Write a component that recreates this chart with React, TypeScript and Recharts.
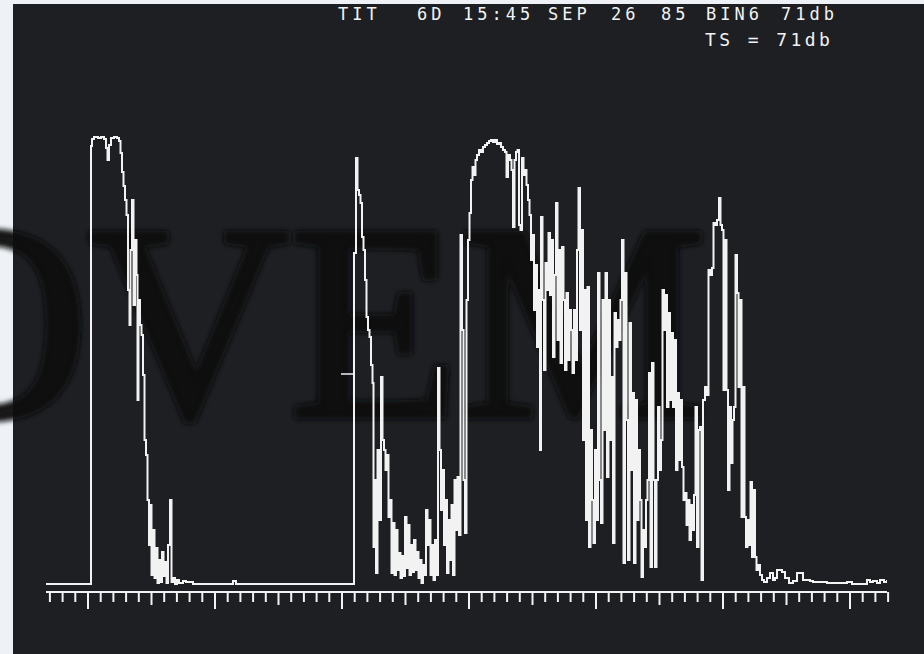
import React from 'react';
import { LineChart, Line, XAxis, YAxis, ReferenceLine } from 'recharts';

// echo trace: [sample, level] pairs
const BOTTOM_PULSE: [number, number][] = [
  [0, 0], [44.7, 0], [45, 438], [46, 445], [48, 447], [52, 446], [55, 447], [58, 445],
  [60, 436], [61.5, 424], [63, 439], [65, 446], [68, 447], [71, 446], [73, 443], [74.5, 431],
  [76, 412], [77.5, 398], [79, 384], [80.5, 369], [82, 294], [83.5, 259], [84.5, 334], [86, 384],
  [87.5, 279], [89, 344], [90.5, 309], [91.5, 184], [92.5, 284], [94, 259], [95.5, 249], [97, 209],
  [98.5, 144], [100, 129], [101.5, 84], [103, 39], [104, 79], [105.5, 9], [107, 54], [108.5, 6],
  [110, 36], [111.5, 1], [113, 24], [114.5, 2], [116, 32], [117.5, 8], [119, 22], [120.5, 1],
  [122, 39], [124, 84], [125.5, 2], [127, 6], [129, 0], [131, 4], [133, 1], [137, 3],
  [140, 2], [147, 0], [187, 3], [190, 0], [308, 0],
];

const SCHOOL_ECHO: [number, number][] = [
  [308, 331], [310, 426], [311.5, 394], [313, 389], [314.5, 381], [316, 347], [317.5, 334], [319, 304],
  [320.5, 267], [322, 254], [323.5, 247], [325, 219], [326.5, 201], [327.5, 37], [329, 104], [330, 11],
  [331.5, 134], [333, 64], [335, 207], [336.5, 144], [338, 134], [339.5, 114], [341, 129], [342.5, 67],
  [344, 84], [345.5, 11], [347, 61], [348.5, 9], [350, 54], [351.5, 14], [353, 31], [354.5, 6],
  [356, 28], [357.5, 8], [359, 67], [360.5, 16], [362, 59], [363.5, 9], [365, 39], [366.5, 12],
  [368, 44], [369.5, 14], [371, 32], [372.5, 6], [374, 24], [375.5, 1], [377, 19], [378.5, 9],
  [380, 74], [381.5, 39], [383, 64], [384.5, 9], [386, 39], [387.5, 4], [389, 44], [390.5, 9],
  [392, 216], [393.5, 134], [395, 74], [396.5, 114], [398, 39], [399.5, 84], [401, 11], [402.5, 64],
  [404, 24], [405.5, 79], [407, 9], [408.5, 104], [410, 54], [411.5, 107], [413, 49], [414.5, 349],
  [416, 254], [417.5, 104], [419, 51], [420.5, 284], [422, 344], [423.5, 371], [425, 404], [426.5, 417],
  [428, 409], [429.5, 424], [431, 429], [433, 434], [435, 432], [437, 437], [439, 439], [441, 441],
  [443, 443], [445, 444], [447, 442], [449, 444], [451, 440], [453, 441], [455, 437], [457, 434],
  [459, 432], [460.5, 407], [462, 429], [464, 424], [465.5, 414], [467, 357], [468.5, 424], [470, 432],
  [471.5, 434], [473, 359], [474.5, 354], [476, 426], [477.5, 409], [479, 414], [480.5, 399], [482, 384],
  [483.5, 369], [485, 324], [486.5, 349], [488, 274], [489.5, 319], [491, 237], [492.5, 294], [494, 134],
  [495, 367], [496.5, 284], [498, 214], [499.5, 321], [501, 294], [502.5, 351], [504, 289], [505.5, 344],
  [507, 227], [508.5, 309], [510, 381], [511.5, 244], [513, 334], [514.5, 221], [516, 337], [517.5, 284],
  [519, 214], [520.5, 291], [522, 224], [523.5, 274], [525, 254], [526.5, 211], [528, 274], [529.5, 224],
  [531, 334], [532.5, 396], [534, 254], [535.5, 354], [537, 144], [538.5, 294], [540, 64], [541.5, 297],
  [543, 37], [544.5, 154], [546, 84], [547.5, 41], [549, 134], [550.5, 64], [552, 311], [553.5, 104],
  [555, 61], [556.5, 284], [558, 154], [559.5, 311], [561, 107], [562.5, 284], [564, 144], [565.5, 207],
  [567, 41], [568.5, 271], [570, 237], [571.5, 264], [573, 244], [574.5, 284], [576, 344], [577.5, 21],
  [579, 311], [580.5, 164], [582, 24], [583.5, 261], [585, 114], [586.5, 191], [588, 21], [589.5, 184],
  [591, 64], [592.5, 134], [594, 84], [595.5, 7], [597, 54], [598.5, 37], [600, 84], [601.5, 104],
  [603, 211], [604.5, 17], [606, 221], [607.5, 104], [609, 17], [610.5, 104], [612, 177], [613.5, 114],
  [615, 144], [616.5, 294], [618, 254], [619.5, 289], [621, 177], [622.5, 271], [624, 184], [625.5, 251],
  [627, 177], [628.5, 244], [630, 114], [631.5, 191], [633, 124], [634.5, 184], [636, 117], [637.5, 84],
  [639, 91], [640.5, 59], [642, 84], [643.5, 44], [645, 79], [646.5, 54], [648, 89], [649.5, 177],
  [651, 37], [652.5, 154], [654, 157], [655.5, 4], [657, 184], [659, 197], [661, 189], [662.5, 314],
  [664, 309], [666, 316], [667.5, 361], [669.5, 359], [671, 364], [673, 386], [674.5, 359], [676, 354],
  [677.5, 194], [679, 344], [680.5, 194], [682, 94], [683.5, 177], [685, 121], [686.5, 164], [688, 177],
  [689.5, 329], [691, 291], [692.5, 197], [694, 284], [695.5, 67], [697, 197], [698.5, 67], [700, 37],
  [701.5, 64], [703, 39], [704.5, 102], [706, 27], [707.5, 94], [709, 27], [710.5, 14], [712, 19],
];

const TAIL_NOISE: [number, number][] = [
  [714, 9], [716, 4], [718, 2], [721, 6], [724, 11], [727, 4], [729, 6], [731, 14],
  [736, 12], [739, 6], [743, 1], [747, 3], [751, 11], [757, 4], [764, 3], [767, 2],
  [781, 1], [801, 2], [806, 0], [821, 4], [824, 2], [827, 3], [831, 1], [834, 4],
  [838, 2], [841, 4],
];

// threshold gate drawn just left of the second echo
const GATE_FROM = 295;
const GATE_TO = 308;
const GATE_LEVEL = 210;

// range scale: one mark per 12.7 samples, long every 10, medium every 5
const MARK_ORIGIN = 42;
const MARK_STEP = 12.7;
const MARK_INDEX = Array.from({ length: 67 }, (_, i) => i - 3);

const HEADER_WORDS = [
  { text: 'TIT', x: 338 },
  { text: '6D', x: 417 },
  { text: '15:45', x: 463 },
  { text: 'SEP', x: 548 },
  { text: '26', x: 611 },
  { text: '85', x: 661 },
  { text: 'BIN6', x: 706 },
  { text: '71db', x: 781 },
];

const TRACE = '#f2f2f2';
const MONO = '"DejaVu Sans Mono", "Liberation Mono", monospace';

const data = [...BOTTOM_PULSE, ...SCHOOL_ECHO, ...TAIL_NOISE].map(([s, v]) => ({ s, v }));
const ticks = MARK_INDEX.map((k) => MARK_ORIGIN + k * MARK_STEP);

function ScaleMark(props: any) {
  const { x, y, index } = props;
  const k = MARK_INDEX[index];
  const r = ((k % 10) + 10) % 10;
  const len = r === 0 ? 17 : r === 5 ? 13 : 10;
  return <line x1={x} x2={x} y1={y} y2={y + len} stroke={TRACE} strokeWidth={2} />;
}

export default function App() {
  return (
    <div style={{ position: 'fixed', left: 0, top: 0, width: 924, height: 654, background: '#eef2f7', overflow: 'hidden' }}>
      {/* scope screen */}
      <div style={{ position: 'absolute', left: 13, top: 4, width: 911, height: 650, background: '#1d1f22', overflow: 'hidden' }}>
        <svg width={911} height={650} style={{ position: 'absolute', left: 0, top: 0 }}>
          {HEADER_WORDS.map((w) => (
            <text key={w.text} x={w.x - 13} y={16} fill={TRACE} fontFamily={MONO} fontSize={17} letterSpacing={4}>
              {w.text}
            </text>
          ))}
          <text x={705 - 13} y={42} fill={TRACE} fontFamily={MONO} fontSize={18} letterSpacing={3.4} xmlSpace="preserve">
            TS = 71db
          </text>
        </svg>
      </div>

      {/* watermark behind the trace */}
      <svg width={924} height={654} style={{ position: 'absolute', left: 0, top: 0 }}>
        <defs>
          <filter id="soft" x="-10%" y="-10%" width="120%" height="120%">
            <feGaussianBlur stdDeviation={2.5} />
          </filter>
        </defs>
        <text
          x={-112}
          y={416}
          fill="#0a0c0f"
          fillOpacity={0.92}
          stroke="#0a0c0f"
          strokeOpacity={0.92}
          strokeWidth={7}
          strokeLinejoin="round"
          fontFamily='"Liberation Serif", serif'
          fontSize={278}
          filter="url(#soft)"
        >
          OVEM
        </text>
      </svg>

      <div style={{ position: 'absolute', left: 0, top: 0 }}>
        <LineChart width={924} height={654} data={data} margin={{ top: 136, right: 37, bottom: 42, left: 46 }}>
          <XAxis
            dataKey="s"
            type="number"
            domain={[0, 841]}
            ticks={ticks}
            interval={0}
            height={20}
            tickSize={0}
            tickMargin={0}
            tickLine={false}
            axisLine={{ stroke: TRACE, strokeWidth: 2 }}
            tick={<ScaleMark />}
            allowDataOverflow
          />
          <YAxis hide type="number" domain={[-8, 448]} allowDataOverflow />
          <ReferenceLine
            segment={[{ x: GATE_FROM, y: GATE_LEVEL }, { x: GATE_TO, y: GATE_LEVEL }]}
            stroke={TRACE}
            strokeWidth={1.5}
          />
          <Line
            dataKey="v"
            type="stepAfter"
            stroke={TRACE}
            strokeWidth={2}
            dot={false}
            isAnimationActive={false}
          />
        </LineChart>
      </div>
    </div>
  );
}
